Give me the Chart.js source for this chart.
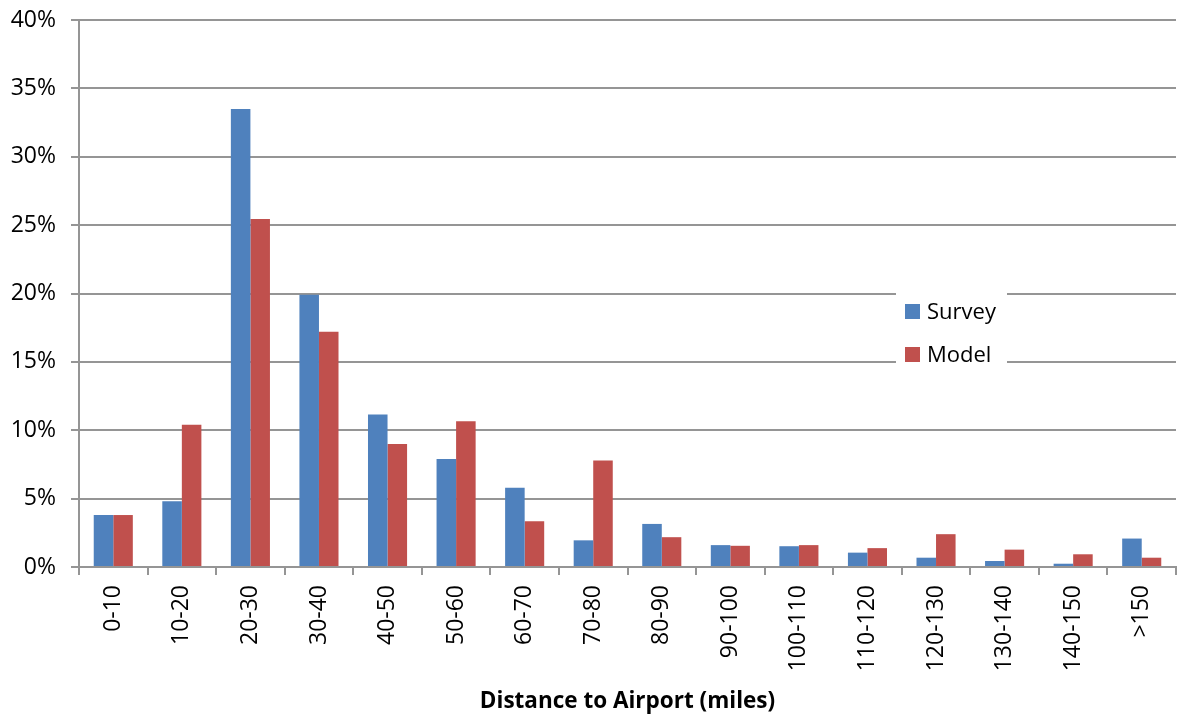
<!DOCTYPE html>
<html>
<head>
<meta charset="utf-8">
<script src="https://cdn.jsdelivr.net/npm/chart.js@4/dist/chart.umd.min.js"></script>
<style>
  html, body { margin: 0; padding: 0; background: #fff; }
  #wrap { width: 1183px; height: 715px; position: relative; }
</style>
</head>
<body>
<div id="wrap"><canvas id="distChart"></canvas></div>
<script>
const categories = ["0-10", "10-20", "20-30", "30-40", "40-50", "50-60", "60-70", "70-80",
  "80-90", "90-100", "100-110", "110-120", "120-130", "130-140", "140-150", ">150"];
const surveyPct = [3.8, 4.8, 33.5, 19.9, 11.15, 7.9, 5.8, 1.95, 3.15, 1.6, 1.52, 1.05, 0.68, 0.44, 0.24, 2.08];
const modelPct  = [3.8, 10.4, 25.45, 17.2, 9.0, 10.65, 3.35, 7.78, 2.18, 1.55, 1.6, 1.38, 2.4, 1.27, 0.93, 0.68];
const yTicks = [0, 5, 10, 15, 20, 25, 30, 35, 40];

const GRID = '#959595';
Chart.defaults.color = '#000';
Chart.defaults.font.family = '"Open Sans", sans-serif';

// legend sits inside the plot on a white patch that hides the gridlines
const boxLegend = {
  id: 'boxLegend',
  afterDraw(chart) {
    const ctx = chart.ctx;
    ctx.save();
    ctx.fillStyle = '#fff';
    ctx.fillRect(896, 283, 111, 89);
    ctx.font = '22px "Open Sans", sans-serif';
    ctx.textBaseline = 'alphabetic';
    chart.data.datasets.forEach(function(ds, i) {
      const y = 304 + i * 43;
      ctx.fillStyle = ds.backgroundColor;
      ctx.fillRect(905, y, 15, 15);
      ctx.fillStyle = '#000';
      ctx.fillText(ds.label, 927, y + 15);
    });
    ctx.restore();
  }
};

new Chart(document.getElementById('distChart'), {
  type: 'bar',
  data: {
    labels: categories,
    datasets: [{
      label: 'Survey',
      data: surveyPct,
      backgroundColor: '#4F81BD',
      categoryPercentage: 0.57,
      barPercentage: 1.0
    }, {
      label: 'Model',
      data: modelPct,
      backgroundColor: '#C0504D',
      categoryPercentage: 0.57,
      barPercentage: 1.0
    }]
  },
  options: {
    responsive: true,
    maintainAspectRatio: false,
    animation: false,
    layout: { padding: { top: 20, right: 7, left: 0, bottom: 0 } },
    plugins: {
      legend: { display: false },
      tooltip: { enabled: false }
    },
    scales: {
      x: {
        grid: { drawOnChartArea: false, drawTicks: true, tickLength: 8, color: GRID, lineWidth: 2 },
        border: { color: GRID, width: 2 },
        ticks: {
          font: { size: 23 },
          minRotation: 90,
          maxRotation: 90,
          padding: 10,
          autoSkip: false
        },
        title: {
          display: true,
          text: 'Distance to Airport (miles)',
          font: { size: 22.5, weight: 'bold' },
          padding: { top: 0, bottom: 0 }
        },
        afterFit(scale) {
          scale.height = 148;
          scale.paddingLeft = 0;
          scale.paddingRight = 0;
        }
      },
      y: {
        min: 0,
        max: 40,
        afterBuildTicks(scale) { scale.ticks = yTicks.map(v => ({ value: v })); },
        grid: { color: GRID, lineWidth: 2, tickLength: 8 },
        border: { color: GRID, width: 2 },
        ticks: {
          font: { size: 23 },
          padding: 15,
          callback: v => v + '%'
        },
        afterFit(scale) {
          scale.width = 79;
          scale.paddingTop = 0;
          scale.paddingBottom = 0;
        }
      }
    }
  },
  plugins: [boxLegend]
});
</script>
</body>
</html>
